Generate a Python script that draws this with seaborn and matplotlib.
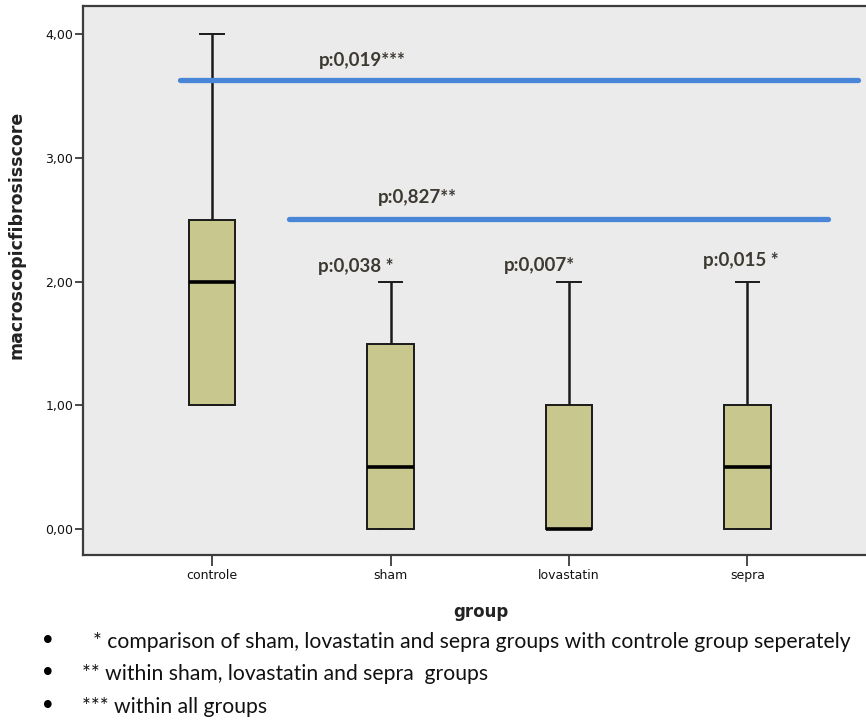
import matplotlib
matplotlib.use("Agg")
import matplotlib.pyplot as plt
import seaborn as sns
import pandas as pd
from matplotlib.ticker import FuncFormatter

# five-number summaries (min, q1, median, q3, max)
groups = ["controle", "sham", "lovastatin", "sepra"]
controle = [1.0, 1.0, 2.0, 2.5, 4.0]
sham = [0.0, 0.0, 0.5, 1.5, 2.0]
lovastatin = [0.0, 0.0, 0.0, 1.0, 2.0]
sepra = [0.0, 0.0, 0.5, 1.0, 2.0]

# significance bars: level, x start, x end, label, label position
bar_levels = [3.63, 2.51]
bar_starts = [-0.18, 0.43]
bar_ends = [3.62, 3.45]
bar_labels = ["p:0,019***", "p:0,827**"]
bar_label_x = [0.60, 0.93]
bar_label_y = [3.79, 2.68]

# per-group p values (vs controle)
pval_labels = ["p:0,038 *", "p:0,007*", "p:0,015 *"]
pval_x = [0.594, 1.636, 2.75]
pval_y = [2.12, 2.13, 2.17]

notes = [
    "* comparison of sham, lovastatin and sepra groups with controle group seperately",
    "** within sham, lovastatin and sepra  groups",
    "*** within all groups",
]

values = {"controle": controle, "sham": sham, "lovastatin": lovastatin, "sepra": sepra}
df = pd.DataFrame([(g, v) for g in groups for v in values[g]], columns=["group", "score"])

fig = plt.figure(figsize=(8.66, 7.23), dpi=100)
ax = fig.add_axes([0.0958, 0.2324, 0.9042, 0.7593])
ax.set_facecolor("#EBEBEB")

sns.boxplot(data=df, x="group", y="score", order=groups, ax=ax,
            color="#C8C88E", saturation=1, width=0.26, whis=1.5,
            linecolor="#1a1a1a", linewidth=1.4, fliersize=0,
            medianprops=dict(color="black", linewidth=2.6),
            whiskerprops=dict(linewidth=1.8))

for lvl, x0, x1 in zip(bar_levels, bar_starts, bar_ends):
    ax.plot([x0, x1], [lvl, lvl], color="#4A86D8", linewidth=3.8,
            solid_capstyle="round", zorder=5)

for lab, x, y in zip(bar_labels + pval_labels, bar_label_x + pval_x, bar_label_y + pval_y):
    ax.text(x, y, lab, fontsize=13.5, fontweight="bold", family="Lato",
            color="#3d3a32", va="center", ha="left")

ax.set_xlim(-0.723, 3.664)
ax.set_ylim(-0.21, 4.23)
ax.set_yticks([0, 1, 2, 3, 4])
ax.yaxis.set_major_formatter(FuncFormatter(lambda v, p: f"{v:.2f}".replace(".", ",")))

for s in ["left", "top", "bottom"]:
    ax.spines[s].set_color("#3c3c3c")
    ax.spines[s].set_linewidth(1.6)
ax.spines["right"].set_visible(False)

ax.tick_params(axis="y", length=6, width=1.3, color="#3c3c3c", labelsize=9,
               labelcolor="#111111", pad=1)
ax.tick_params(axis="x", length=8, width=1.3, color="#3c3c3c", labelsize=9,
               labelcolor="#111111", pad=2)
for t in ax.get_xticklabels() + ax.get_yticklabels():
    t.set_family("DejaVu Sans")
    t.set_fontweight("medium")

ax.set_xlabel("group", fontsize=12, fontweight="bold", family="DejaVu Sans",
              color="#222222")
ax.set_ylabel("macroscopicfibrosisscore", fontsize=12.5, fontweight="bold",
              family="DejaVu Sans", color="#222222")
ax.xaxis.set_label_coords(0.508, -0.087)
ax.yaxis.set_label_coords(-0.074, 0.583)

# footnotes below the chart
ys = [642, 674, 707]
xs = [93, 82, 82]
for note, y, x in zip(notes, ys, xs):
    fig.text(48 / 866, 1 - y / 723, "\u2022", fontsize=19, family="DejaVu Sans",
             va="center", ha="center", color="black")
    fig.text(x / 866, 1 - y / 723, note, fontsize=15.2, family="Lato",
             va="center", ha="left", color="#111111")

fig.savefig("out.png", dpi=100)
